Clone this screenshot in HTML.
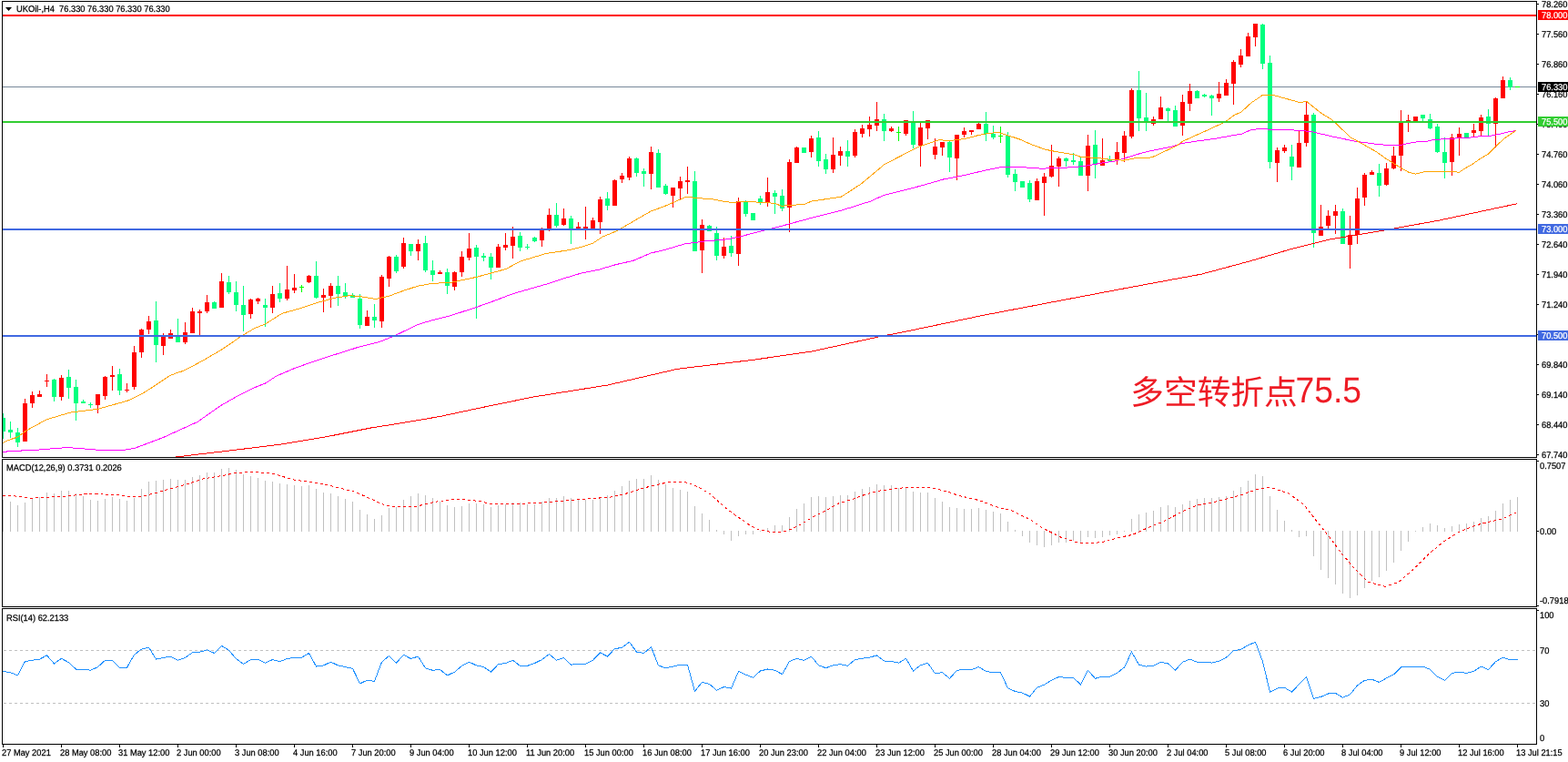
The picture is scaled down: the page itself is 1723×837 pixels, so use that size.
<!DOCTYPE html>
<html><head><meta charset="utf-8"><title>UKOil H4</title>
<style>
html,body{margin:0;padding:0;background:#fff;}
body{width:1723px;height:837px;overflow:hidden;}
svg{display:block;}
svg text{font-family:"Liberation Sans", "Noto Sans CJK SC", sans-serif;text-rendering:geometricPrecision;}
</style></head><body>
<svg width="1723" height="837" viewBox="0 0 1723 837">
<defs><clipPath id="mainclip"><rect x="3" y="2" width="1685" height="500"/></clipPath></defs>
<rect width="1723" height="837" fill="#fff"/>
<g shape-rendering="crispEdges">
<rect x="3" y="95" width="1685" height="1" fill="#778899"/>
<g clip-path="url(#mainclip)">
<rect x="3" y="454" width="1" height="28" fill="#00ff7f"/>
<rect x="1" y="459" width="5" height="15" fill="#00ff7f"/>
<rect x="11" y="463" width="1" height="18" fill="#00ff7f"/>
<rect x="9" y="472" width="5" height="3" fill="#00ff7f"/>
<rect x="19" y="470" width="1" height="21" fill="#00ff7f"/>
<rect x="17" y="475" width="5" height="11" fill="#00ff7f"/>
<rect x="27" y="438" width="1" height="47" fill="#ff0000"/>
<rect x="25" y="443" width="5" height="42" fill="#ff0000"/>
<rect x="35" y="430" width="1" height="18" fill="#ff0000"/>
<rect x="33" y="434" width="5" height="9" fill="#ff0000"/>
<rect x="43" y="429" width="1" height="7" fill="#ff0000"/>
<rect x="41" y="433" width="5" height="3" fill="#ff0000"/>
<rect x="51" y="411" width="1" height="14" fill="#ff0000"/>
<rect x="49" y="418" width="5" height="1" fill="#ff0000"/>
<rect x="59" y="416" width="1" height="25" fill="#00ff7f"/>
<rect x="57" y="417" width="5" height="19" fill="#00ff7f"/>
<rect x="67" y="412" width="1" height="28" fill="#ff0000"/>
<rect x="65" y="415" width="5" height="21" fill="#ff0000"/>
<rect x="75" y="406" width="1" height="32" fill="#00ff7f"/>
<rect x="73" y="414" width="5" height="12" fill="#00ff7f"/>
<rect x="83" y="417" width="1" height="45" fill="#00ff7f"/>
<rect x="81" y="425" width="5" height="18" fill="#00ff7f"/>
<rect x="91" y="439" width="1" height="4" fill="#00ff7f"/>
<rect x="89" y="441" width="5" height="2" fill="#00ff7f"/>
<rect x="99" y="442" width="1" height="6" fill="#00ff7f"/>
<rect x="97" y="444" width="5" height="1" fill="#00ff7f"/>
<rect x="107" y="433" width="1" height="21" fill="#ff0000"/>
<rect x="105" y="433" width="5" height="12" fill="#ff0000"/>
<rect x="115" y="413" width="1" height="26" fill="#ff0000"/>
<rect x="113" y="414" width="5" height="21" fill="#ff0000"/>
<rect x="123" y="402" width="1" height="27" fill="#ff0000"/>
<rect x="121" y="412" width="5" height="2" fill="#ff0000"/>
<rect x="131" y="405" width="1" height="29" fill="#00ff7f"/>
<rect x="129" y="411" width="5" height="18" fill="#00ff7f"/>
<rect x="139" y="421" width="1" height="10" fill="#ff0000"/>
<rect x="137" y="428" width="5" height="1" fill="#ff0000"/>
<rect x="147" y="380" width="1" height="48" fill="#ff0000"/>
<rect x="145" y="387" width="5" height="38" fill="#ff0000"/>
<rect x="155" y="361" width="1" height="32" fill="#ff0000"/>
<rect x="153" y="362" width="5" height="25" fill="#ff0000"/>
<rect x="163" y="347" width="1" height="20" fill="#ff0000"/>
<rect x="161" y="353" width="5" height="9" fill="#ff0000"/>
<rect x="171" y="331" width="1" height="67" fill="#00ff7f"/>
<rect x="169" y="352" width="5" height="27" fill="#00ff7f"/>
<rect x="179" y="366" width="1" height="24" fill="#ff0000"/>
<rect x="177" y="369" width="5" height="11" fill="#ff0000"/>
<rect x="187" y="362" width="1" height="10" fill="#ff0000"/>
<rect x="185" y="366" width="5" height="6" fill="#ff0000"/>
<rect x="195" y="350" width="1" height="26" fill="#00ff7f"/>
<rect x="193" y="370" width="5" height="6" fill="#00ff7f"/>
<rect x="203" y="354" width="1" height="24" fill="#ff0000"/>
<rect x="201" y="365" width="5" height="11" fill="#ff0000"/>
<rect x="211" y="338" width="1" height="28" fill="#ff0000"/>
<rect x="209" y="342" width="5" height="24" fill="#ff0000"/>
<rect x="219" y="340" width="1" height="28" fill="#ff0000"/>
<rect x="217" y="342" width="5" height="2" fill="#ff0000"/>
<rect x="227" y="324" width="1" height="20" fill="#ff0000"/>
<rect x="225" y="332" width="5" height="10" fill="#ff0000"/>
<rect x="235" y="331" width="1" height="8" fill="#00ff7f"/>
<rect x="233" y="332" width="5" height="7" fill="#00ff7f"/>
<rect x="243" y="300" width="1" height="38" fill="#ff0000"/>
<rect x="241" y="309" width="5" height="29" fill="#ff0000"/>
<rect x="251" y="303" width="1" height="20" fill="#00ff7f"/>
<rect x="249" y="310" width="5" height="11" fill="#00ff7f"/>
<rect x="259" y="309" width="1" height="33" fill="#00ff7f"/>
<rect x="257" y="321" width="5" height="14" fill="#00ff7f"/>
<rect x="267" y="314" width="1" height="50" fill="#00ff7f"/>
<rect x="265" y="335" width="5" height="11" fill="#00ff7f"/>
<rect x="275" y="328" width="1" height="22" fill="#ff0000"/>
<rect x="273" y="329" width="5" height="16" fill="#ff0000"/>
<rect x="283" y="327" width="1" height="7" fill="#ff0000"/>
<rect x="281" y="328" width="5" height="3" fill="#ff0000"/>
<rect x="291" y="328" width="1" height="31" fill="#00ff7f"/>
<rect x="289" y="335" width="5" height="3" fill="#00ff7f"/>
<rect x="299" y="314" width="1" height="30" fill="#ff0000"/>
<rect x="297" y="323" width="5" height="15" fill="#ff0000"/>
<rect x="307" y="311" width="1" height="21" fill="#00ff7f"/>
<rect x="305" y="322" width="5" height="6" fill="#00ff7f"/>
<rect x="315" y="292" width="1" height="38" fill="#ff0000"/>
<rect x="313" y="318" width="5" height="10" fill="#ff0000"/>
<rect x="323" y="301" width="1" height="21" fill="#ff0000"/>
<rect x="321" y="316" width="5" height="3" fill="#ff0000"/>
<rect x="331" y="313" width="1" height="8" fill="#00ff00"/>
<rect x="329" y="315" width="5" height="1" fill="#00ff00"/>
<rect x="339" y="302" width="1" height="9" fill="#ff0000"/>
<rect x="337" y="303" width="5" height="7" fill="#ff0000"/>
<rect x="347" y="287" width="1" height="41" fill="#00ff7f"/>
<rect x="345" y="303" width="5" height="24" fill="#00ff7f"/>
<rect x="355" y="317" width="1" height="26" fill="#ff0000"/>
<rect x="353" y="324" width="5" height="3" fill="#ff0000"/>
<rect x="363" y="311" width="1" height="27" fill="#ff0000"/>
<rect x="361" y="314" width="5" height="11" fill="#ff0000"/>
<rect x="371" y="303" width="1" height="33" fill="#00ff7f"/>
<rect x="369" y="314" width="5" height="9" fill="#00ff7f"/>
<rect x="379" y="311" width="1" height="17" fill="#00ff7f"/>
<rect x="377" y="321" width="5" height="4" fill="#00ff7f"/>
<rect x="387" y="322" width="1" height="5" fill="#00ff7f"/>
<rect x="385" y="324" width="5" height="3" fill="#00ff7f"/>
<rect x="395" y="323" width="1" height="38" fill="#00ff7f"/>
<rect x="393" y="328" width="5" height="29" fill="#00ff7f"/>
<rect x="403" y="341" width="1" height="17" fill="#ff0000"/>
<rect x="401" y="348" width="5" height="10" fill="#ff0000"/>
<rect x="411" y="334" width="1" height="26" fill="#00ff7f"/>
<rect x="409" y="348" width="5" height="4" fill="#00ff7f"/>
<rect x="419" y="302" width="1" height="58" fill="#ff0000"/>
<rect x="417" y="304" width="5" height="49" fill="#ff0000"/>
<rect x="427" y="281" width="1" height="34" fill="#ff0000"/>
<rect x="425" y="282" width="5" height="24" fill="#ff0000"/>
<rect x="435" y="280" width="1" height="20" fill="#00ff7f"/>
<rect x="433" y="282" width="5" height="16" fill="#00ff7f"/>
<rect x="443" y="261" width="1" height="34" fill="#ff0000"/>
<rect x="441" y="267" width="5" height="26" fill="#ff0000"/>
<rect x="451" y="268" width="1" height="13" fill="#00ff7f"/>
<rect x="449" y="268" width="5" height="8" fill="#00ff7f"/>
<rect x="459" y="263" width="1" height="23" fill="#ff0000"/>
<rect x="457" y="268" width="5" height="8" fill="#ff0000"/>
<rect x="467" y="259" width="1" height="40" fill="#00ff7f"/>
<rect x="465" y="267" width="5" height="30" fill="#00ff7f"/>
<rect x="475" y="286" width="1" height="23" fill="#00ff7f"/>
<rect x="473" y="297" width="5" height="5" fill="#00ff7f"/>
<rect x="483" y="297" width="1" height="4" fill="#ff0000"/>
<rect x="481" y="299" width="5" height="2" fill="#ff0000"/>
<rect x="491" y="295" width="1" height="28" fill="#00ff7f"/>
<rect x="489" y="299" width="5" height="15" fill="#00ff7f"/>
<rect x="499" y="298" width="1" height="21" fill="#ff0000"/>
<rect x="497" y="299" width="5" height="16" fill="#ff0000"/>
<rect x="507" y="276" width="1" height="28" fill="#ff0000"/>
<rect x="505" y="282" width="5" height="17" fill="#ff0000"/>
<rect x="515" y="256" width="1" height="30" fill="#ff0000"/>
<rect x="513" y="273" width="5" height="10" fill="#ff0000"/>
<rect x="523" y="269" width="1" height="81" fill="#00ff7f"/>
<rect x="521" y="272" width="5" height="10" fill="#00ff7f"/>
<rect x="531" y="278" width="1" height="9" fill="#00ff7f"/>
<rect x="529" y="281" width="5" height="2" fill="#00ff7f"/>
<rect x="539" y="278" width="1" height="29" fill="#00ff7f"/>
<rect x="537" y="282" width="5" height="12" fill="#00ff7f"/>
<rect x="547" y="268" width="1" height="26" fill="#ff0000"/>
<rect x="545" y="271" width="5" height="23" fill="#ff0000"/>
<rect x="555" y="256" width="1" height="19" fill="#ff0000"/>
<rect x="553" y="269" width="5" height="3" fill="#ff0000"/>
<rect x="563" y="249" width="1" height="35" fill="#ff0000"/>
<rect x="561" y="260" width="5" height="10" fill="#ff0000"/>
<rect x="571" y="255" width="1" height="21" fill="#00ff7f"/>
<rect x="569" y="259" width="5" height="13" fill="#00ff7f"/>
<rect x="579" y="268" width="1" height="6" fill="#00ff7f"/>
<rect x="577" y="271" width="5" height="1" fill="#00ff7f"/>
<rect x="587" y="260" width="1" height="6" fill="#00ff7f"/>
<rect x="585" y="261" width="5" height="4" fill="#00ff7f"/>
<rect x="595" y="250" width="1" height="21" fill="#ff0000"/>
<rect x="593" y="252" width="5" height="12" fill="#ff0000"/>
<rect x="603" y="229" width="1" height="25" fill="#ff0000"/>
<rect x="601" y="236" width="5" height="15" fill="#ff0000"/>
<rect x="611" y="223" width="1" height="27" fill="#00ff7f"/>
<rect x="609" y="236" width="5" height="12" fill="#00ff7f"/>
<rect x="619" y="229" width="1" height="19" fill="#ff0000"/>
<rect x="617" y="240" width="5" height="7" fill="#ff0000"/>
<rect x="627" y="237" width="1" height="31" fill="#00ff7f"/>
<rect x="625" y="240" width="5" height="11" fill="#00ff7f"/>
<rect x="635" y="244" width="1" height="7" fill="#ff0000"/>
<rect x="633" y="249" width="5" height="2" fill="#ff0000"/>
<rect x="643" y="227" width="1" height="36" fill="#ff0000"/>
<rect x="641" y="249" width="5" height="2" fill="#ff0000"/>
<rect x="651" y="239" width="1" height="12" fill="#ff0000"/>
<rect x="649" y="242" width="5" height="9" fill="#ff0000"/>
<rect x="659" y="216" width="1" height="41" fill="#ff0000"/>
<rect x="657" y="219" width="5" height="25" fill="#ff0000"/>
<rect x="667" y="211" width="1" height="20" fill="#00ff7f"/>
<rect x="665" y="218" width="5" height="8" fill="#00ff7f"/>
<rect x="675" y="197" width="1" height="29" fill="#ff0000"/>
<rect x="673" y="198" width="5" height="28" fill="#ff0000"/>
<rect x="683" y="190" width="1" height="11" fill="#ff0000"/>
<rect x="681" y="193" width="5" height="4" fill="#ff0000"/>
<rect x="691" y="172" width="1" height="26" fill="#ff0000"/>
<rect x="689" y="174" width="5" height="21" fill="#ff0000"/>
<rect x="699" y="173" width="1" height="21" fill="#00ff7f"/>
<rect x="697" y="174" width="5" height="16" fill="#00ff7f"/>
<rect x="707" y="185" width="1" height="20" fill="#00ff7f"/>
<rect x="705" y="188" width="5" height="3" fill="#00ff7f"/>
<rect x="715" y="161" width="1" height="47" fill="#ff0000"/>
<rect x="713" y="167" width="5" height="24" fill="#ff0000"/>
<rect x="723" y="164" width="1" height="42" fill="#00ff7f"/>
<rect x="721" y="168" width="5" height="38" fill="#00ff7f"/>
<rect x="731" y="202" width="1" height="12" fill="#00ff7f"/>
<rect x="729" y="204" width="5" height="9" fill="#00ff7f"/>
<rect x="739" y="206" width="1" height="22" fill="#ff0000"/>
<rect x="737" y="206" width="5" height="9" fill="#ff0000"/>
<rect x="747" y="194" width="1" height="25" fill="#ff0000"/>
<rect x="745" y="199" width="5" height="8" fill="#ff0000"/>
<rect x="755" y="183" width="1" height="30" fill="#ff0000"/>
<rect x="753" y="198" width="5" height="2" fill="#ff0000"/>
<rect x="763" y="188" width="1" height="88" fill="#00ff7f"/>
<rect x="761" y="199" width="5" height="77" fill="#00ff7f"/>
<rect x="771" y="241" width="1" height="59" fill="#ff0000"/>
<rect x="769" y="247" width="5" height="28" fill="#ff0000"/>
<rect x="779" y="247" width="1" height="7" fill="#00ff7f"/>
<rect x="777" y="248" width="5" height="6" fill="#00ff7f"/>
<rect x="787" y="249" width="1" height="37" fill="#00ff7f"/>
<rect x="785" y="256" width="5" height="25" fill="#00ff7f"/>
<rect x="795" y="261" width="1" height="23" fill="#ff0000"/>
<rect x="793" y="271" width="5" height="10" fill="#ff0000"/>
<rect x="803" y="259" width="1" height="23" fill="#00ff7f"/>
<rect x="801" y="270" width="5" height="8" fill="#00ff7f"/>
<rect x="811" y="217" width="1" height="75" fill="#ff0000"/>
<rect x="809" y="221" width="5" height="58" fill="#ff0000"/>
<rect x="819" y="220" width="1" height="18" fill="#00ff7f"/>
<rect x="817" y="222" width="5" height="13" fill="#00ff7f"/>
<rect x="827" y="234" width="1" height="8" fill="#00ff7f"/>
<rect x="825" y="234" width="5" height="8" fill="#00ff7f"/>
<rect x="835" y="215" width="1" height="10" fill="#00ff7f"/>
<rect x="833" y="218" width="5" height="4" fill="#00ff7f"/>
<rect x="843" y="195" width="1" height="32" fill="#ff0000"/>
<rect x="841" y="211" width="5" height="11" fill="#ff0000"/>
<rect x="851" y="209" width="1" height="26" fill="#00ff7f"/>
<rect x="849" y="212" width="5" height="4" fill="#00ff7f"/>
<rect x="859" y="208" width="1" height="24" fill="#00ff7f"/>
<rect x="857" y="215" width="5" height="14" fill="#00ff7f"/>
<rect x="867" y="175" width="1" height="80" fill="#ff0000"/>
<rect x="865" y="178" width="5" height="50" fill="#ff0000"/>
<rect x="875" y="161" width="1" height="18" fill="#ff0000"/>
<rect x="873" y="162" width="5" height="17" fill="#ff0000"/>
<rect x="883" y="162" width="1" height="6" fill="#00ff7f"/>
<rect x="881" y="162" width="5" height="6" fill="#00ff7f"/>
<rect x="891" y="149" width="1" height="24" fill="#ff0000"/>
<rect x="889" y="152" width="5" height="15" fill="#ff0000"/>
<rect x="899" y="144" width="1" height="39" fill="#00ff7f"/>
<rect x="897" y="151" width="5" height="26" fill="#00ff7f"/>
<rect x="907" y="169" width="1" height="22" fill="#00ff7f"/>
<rect x="905" y="175" width="5" height="11" fill="#00ff7f"/>
<rect x="915" y="151" width="1" height="39" fill="#ff0000"/>
<rect x="913" y="170" width="5" height="16" fill="#ff0000"/>
<rect x="923" y="161" width="1" height="21" fill="#ff0000"/>
<rect x="921" y="166" width="5" height="5" fill="#ff0000"/>
<rect x="931" y="154" width="1" height="29" fill="#00ff7f"/>
<rect x="929" y="166" width="5" height="6" fill="#00ff7f"/>
<rect x="939" y="142" width="1" height="31" fill="#ff0000"/>
<rect x="937" y="145" width="5" height="26" fill="#ff0000"/>
<rect x="947" y="137" width="1" height="14" fill="#ff0000"/>
<rect x="945" y="141" width="5" height="6" fill="#ff0000"/>
<rect x="955" y="128" width="1" height="22" fill="#ff0000"/>
<rect x="953" y="137" width="5" height="5" fill="#ff0000"/>
<rect x="963" y="112" width="1" height="32" fill="#ff0000"/>
<rect x="961" y="131" width="5" height="7" fill="#ff0000"/>
<rect x="971" y="125" width="1" height="30" fill="#00ff7f"/>
<rect x="969" y="131" width="5" height="13" fill="#00ff7f"/>
<rect x="979" y="139" width="1" height="6" fill="#ff0000"/>
<rect x="977" y="141" width="5" height="3" fill="#ff0000"/>
<rect x="987" y="139" width="1" height="16" fill="#00ff00"/>
<rect x="985" y="145" width="5" height="1" fill="#00ff00"/>
<rect x="995" y="132" width="1" height="17" fill="#ff0000"/>
<rect x="993" y="132" width="5" height="15" fill="#ff0000"/>
<rect x="1003" y="122" width="1" height="41" fill="#00ff7f"/>
<rect x="1001" y="135" width="5" height="24" fill="#00ff7f"/>
<rect x="1011" y="135" width="1" height="48" fill="#ff0000"/>
<rect x="1009" y="140" width="5" height="20" fill="#ff0000"/>
<rect x="1019" y="132" width="1" height="21" fill="#ff0000"/>
<rect x="1017" y="132" width="5" height="9" fill="#ff0000"/>
<rect x="1027" y="152" width="1" height="23" fill="#ff0000"/>
<rect x="1025" y="161" width="5" height="9" fill="#ff0000"/>
<rect x="1035" y="156" width="1" height="15" fill="#ff0000"/>
<rect x="1033" y="156" width="5" height="6" fill="#ff0000"/>
<rect x="1043" y="155" width="1" height="34" fill="#00ff7f"/>
<rect x="1041" y="156" width="5" height="17" fill="#00ff7f"/>
<rect x="1051" y="148" width="1" height="50" fill="#ff0000"/>
<rect x="1049" y="148" width="5" height="26" fill="#ff0000"/>
<rect x="1059" y="140" width="1" height="11" fill="#ff0000"/>
<rect x="1057" y="144" width="5" height="4" fill="#ff0000"/>
<rect x="1067" y="143" width="1" height="5" fill="#ff0000"/>
<rect x="1065" y="143" width="5" height="2" fill="#ff0000"/>
<rect x="1075" y="135" width="1" height="7" fill="#ff0000"/>
<rect x="1073" y="136" width="5" height="6" fill="#ff0000"/>
<rect x="1083" y="123" width="1" height="32" fill="#00ff7f"/>
<rect x="1081" y="136" width="5" height="11" fill="#00ff7f"/>
<rect x="1091" y="138" width="1" height="15" fill="#00ff7f"/>
<rect x="1089" y="147" width="5" height="4" fill="#00ff7f"/>
<rect x="1099" y="139" width="1" height="18" fill="#00ff00"/>
<rect x="1097" y="149" width="5" height="1" fill="#00ff00"/>
<rect x="1107" y="145" width="1" height="50" fill="#00ff7f"/>
<rect x="1105" y="149" width="5" height="43" fill="#00ff7f"/>
<rect x="1115" y="186" width="1" height="24" fill="#00ff7f"/>
<rect x="1113" y="191" width="5" height="9" fill="#00ff7f"/>
<rect x="1123" y="199" width="1" height="7" fill="#00ff7f"/>
<rect x="1121" y="199" width="5" height="7" fill="#00ff7f"/>
<rect x="1131" y="198" width="1" height="24" fill="#00ff7f"/>
<rect x="1129" y="201" width="5" height="18" fill="#00ff7f"/>
<rect x="1139" y="196" width="1" height="24" fill="#ff0000"/>
<rect x="1137" y="199" width="5" height="21" fill="#ff0000"/>
<rect x="1147" y="190" width="1" height="47" fill="#ff0000"/>
<rect x="1145" y="194" width="5" height="7" fill="#ff0000"/>
<rect x="1155" y="159" width="1" height="36" fill="#ff0000"/>
<rect x="1153" y="182" width="5" height="12" fill="#ff0000"/>
<rect x="1163" y="172" width="1" height="33" fill="#ff0000"/>
<rect x="1161" y="174" width="5" height="9" fill="#ff0000"/>
<rect x="1171" y="173" width="1" height="10" fill="#00ff7f"/>
<rect x="1169" y="174" width="5" height="3" fill="#00ff7f"/>
<rect x="1179" y="168" width="1" height="13" fill="#00ff7f"/>
<rect x="1177" y="176" width="5" height="2" fill="#00ff7f"/>
<rect x="1187" y="173" width="1" height="20" fill="#00ff7f"/>
<rect x="1185" y="177" width="5" height="16" fill="#00ff7f"/>
<rect x="1195" y="148" width="1" height="62" fill="#ff0000"/>
<rect x="1193" y="160" width="5" height="33" fill="#ff0000"/>
<rect x="1203" y="143" width="1" height="53" fill="#00ff7f"/>
<rect x="1201" y="159" width="5" height="22" fill="#00ff7f"/>
<rect x="1211" y="152" width="1" height="30" fill="#ff0000"/>
<rect x="1209" y="176" width="5" height="6" fill="#ff0000"/>
<rect x="1219" y="171" width="1" height="6" fill="#00ff7f"/>
<rect x="1217" y="175" width="5" height="2" fill="#00ff7f"/>
<rect x="1227" y="156" width="1" height="25" fill="#ff0000"/>
<rect x="1225" y="167" width="5" height="8" fill="#ff0000"/>
<rect x="1235" y="144" width="1" height="34" fill="#ff0000"/>
<rect x="1233" y="149" width="5" height="19" fill="#ff0000"/>
<rect x="1243" y="97" width="1" height="55" fill="#ff0000"/>
<rect x="1241" y="99" width="5" height="51" fill="#ff0000"/>
<rect x="1251" y="78" width="1" height="66" fill="#00ff7f"/>
<rect x="1249" y="99" width="5" height="31" fill="#00ff7f"/>
<rect x="1259" y="102" width="1" height="42" fill="#00ff7f"/>
<rect x="1257" y="129" width="5" height="5" fill="#00ff7f"/>
<rect x="1267" y="128" width="1" height="10" fill="#ff0000"/>
<rect x="1265" y="131" width="5" height="5" fill="#ff0000"/>
<rect x="1275" y="106" width="1" height="25" fill="#ff0000"/>
<rect x="1273" y="118" width="5" height="13" fill="#ff0000"/>
<rect x="1283" y="118" width="1" height="15" fill="#00ff7f"/>
<rect x="1281" y="119" width="5" height="3" fill="#00ff7f"/>
<rect x="1291" y="116" width="1" height="23" fill="#00ff7f"/>
<rect x="1289" y="121" width="5" height="18" fill="#00ff7f"/>
<rect x="1299" y="104" width="1" height="45" fill="#ff0000"/>
<rect x="1297" y="112" width="5" height="26" fill="#ff0000"/>
<rect x="1307" y="92" width="1" height="30" fill="#ff0000"/>
<rect x="1305" y="100" width="5" height="14" fill="#ff0000"/>
<rect x="1315" y="99" width="1" height="9" fill="#00ff7f"/>
<rect x="1313" y="100" width="5" height="8" fill="#00ff7f"/>
<rect x="1323" y="103" width="1" height="4" fill="#00ff7f"/>
<rect x="1321" y="104" width="5" height="2" fill="#00ff7f"/>
<rect x="1331" y="104" width="1" height="23" fill="#00ff7f"/>
<rect x="1329" y="105" width="5" height="3" fill="#00ff7f"/>
<rect x="1339" y="90" width="1" height="22" fill="#ff0000"/>
<rect x="1337" y="103" width="5" height="5" fill="#ff0000"/>
<rect x="1347" y="87" width="1" height="18" fill="#ff0000"/>
<rect x="1345" y="91" width="5" height="14" fill="#ff0000"/>
<rect x="1355" y="66" width="1" height="49" fill="#ff0000"/>
<rect x="1353" y="68" width="5" height="24" fill="#ff0000"/>
<rect x="1363" y="54" width="1" height="20" fill="#ff0000"/>
<rect x="1361" y="61" width="5" height="10" fill="#ff0000"/>
<rect x="1371" y="36" width="1" height="26" fill="#ff0000"/>
<rect x="1369" y="40" width="5" height="22" fill="#ff0000"/>
<rect x="1379" y="26" width="1" height="25" fill="#ff0000"/>
<rect x="1377" y="26" width="5" height="15" fill="#ff0000"/>
<rect x="1387" y="26" width="1" height="50" fill="#00ff7f"/>
<rect x="1385" y="27" width="5" height="43" fill="#00ff7f"/>
<rect x="1395" y="61" width="1" height="124" fill="#00ff7f"/>
<rect x="1393" y="69" width="5" height="109" fill="#00ff7f"/>
<rect x="1403" y="162" width="1" height="38" fill="#ff0000"/>
<rect x="1401" y="165" width="5" height="14" fill="#ff0000"/>
<rect x="1411" y="159" width="1" height="9" fill="#ff0000"/>
<rect x="1409" y="162" width="5" height="4" fill="#ff0000"/>
<rect x="1419" y="159" width="1" height="39" fill="#00ff7f"/>
<rect x="1417" y="172" width="5" height="11" fill="#00ff7f"/>
<rect x="1427" y="144" width="1" height="40" fill="#ff0000"/>
<rect x="1425" y="157" width="5" height="27" fill="#ff0000"/>
<rect x="1435" y="112" width="1" height="49" fill="#ff0000"/>
<rect x="1433" y="126" width="5" height="31" fill="#ff0000"/>
<rect x="1443" y="124" width="1" height="148" fill="#00ff7f"/>
<rect x="1441" y="126" width="5" height="130" fill="#00ff7f"/>
<rect x="1451" y="225" width="1" height="34" fill="#ff0000"/>
<rect x="1449" y="249" width="5" height="10" fill="#ff0000"/>
<rect x="1459" y="231" width="1" height="20" fill="#ff0000"/>
<rect x="1457" y="237" width="5" height="11" fill="#ff0000"/>
<rect x="1467" y="225" width="1" height="32" fill="#ff0000"/>
<rect x="1465" y="232" width="5" height="5" fill="#ff0000"/>
<rect x="1475" y="229" width="1" height="39" fill="#00ff7f"/>
<rect x="1473" y="232" width="5" height="36" fill="#00ff7f"/>
<rect x="1483" y="237" width="1" height="58" fill="#ff0000"/>
<rect x="1481" y="258" width="5" height="11" fill="#ff0000"/>
<rect x="1491" y="206" width="1" height="62" fill="#ff0000"/>
<rect x="1489" y="218" width="5" height="40" fill="#ff0000"/>
<rect x="1499" y="190" width="1" height="36" fill="#ff0000"/>
<rect x="1497" y="192" width="5" height="25" fill="#ff0000"/>
<rect x="1507" y="187" width="1" height="5" fill="#ff0000"/>
<rect x="1505" y="189" width="5" height="3" fill="#ff0000"/>
<rect x="1515" y="180" width="1" height="36" fill="#00ff7f"/>
<rect x="1513" y="190" width="5" height="14" fill="#00ff7f"/>
<rect x="1523" y="179" width="1" height="25" fill="#ff0000"/>
<rect x="1521" y="185" width="5" height="18" fill="#ff0000"/>
<rect x="1531" y="161" width="1" height="25" fill="#ff0000"/>
<rect x="1529" y="171" width="5" height="14" fill="#ff0000"/>
<rect x="1539" y="121" width="1" height="67" fill="#ff0000"/>
<rect x="1537" y="135" width="5" height="36" fill="#ff0000"/>
<rect x="1547" y="126" width="1" height="19" fill="#ff0000"/>
<rect x="1545" y="132" width="5" height="1" fill="#ff0000"/>
<rect x="1555" y="128" width="1" height="5" fill="#ff0000"/>
<rect x="1553" y="128" width="5" height="5" fill="#ff0000"/>
<rect x="1563" y="126" width="1" height="7" fill="#00ff7f"/>
<rect x="1561" y="126" width="5" height="4" fill="#00ff7f"/>
<rect x="1571" y="125" width="1" height="17" fill="#00ff7f"/>
<rect x="1569" y="131" width="5" height="10" fill="#00ff7f"/>
<rect x="1579" y="136" width="1" height="32" fill="#00ff7f"/>
<rect x="1577" y="139" width="5" height="28" fill="#00ff7f"/>
<rect x="1587" y="151" width="1" height="45" fill="#00ff7f"/>
<rect x="1585" y="167" width="5" height="12" fill="#00ff7f"/>
<rect x="1595" y="147" width="1" height="46" fill="#ff0000"/>
<rect x="1593" y="151" width="5" height="27" fill="#ff0000"/>
<rect x="1603" y="140" width="1" height="31" fill="#ff0000"/>
<rect x="1601" y="147" width="5" height="5" fill="#ff0000"/>
<rect x="1611" y="146" width="1" height="5" fill="#00ff7f"/>
<rect x="1609" y="146" width="5" height="5" fill="#00ff7f"/>
<rect x="1619" y="136" width="1" height="15" fill="#ff0000"/>
<rect x="1617" y="143" width="5" height="3" fill="#ff0000"/>
<rect x="1627" y="126" width="1" height="23" fill="#ff0000"/>
<rect x="1625" y="129" width="5" height="15" fill="#ff0000"/>
<rect x="1635" y="120" width="1" height="29" fill="#00ff7f"/>
<rect x="1633" y="128" width="5" height="8" fill="#00ff7f"/>
<rect x="1643" y="107" width="1" height="55" fill="#ff0000"/>
<rect x="1641" y="108" width="5" height="28" fill="#ff0000"/>
<rect x="1651" y="84" width="1" height="24" fill="#ff0000"/>
<rect x="1649" y="88" width="5" height="20" fill="#ff0000"/>
<rect x="1659" y="85" width="1" height="14" fill="#00ff7f"/>
<rect x="1657" y="88" width="5" height="8" fill="#00ff7f"/>
<rect x="1665" y="95" width="5" height="1" fill="#00ff00"/>
</g>
<g clip-path="url(#mainclip)">
<polyline points="191.5,502.2 255.4,494.6 306.4,488.4 357.5,480.0 408.6,469.8 430.0,466.5 482.9,457.6 529.2,447.7 585.5,436.1 668.2,422.9 744.3,405.3 827.0,395.4 893.1,385.8 965.9,369.9 1000.0,363.2 1080.1,346.4 1160.2,331.1 1240.3,315.9 1320.4,301.1 1372.4,287.1 1420.5,273.1 1460.6,263.1 1520.6,253.0 1580.7,242.2 1666.8,223.8" fill="none" stroke="#ff0000" stroke-width="1" />
<polyline points="2.6,496.6 7.0,496.4 8.0,495.5 23.0,495.5 24.0,494.6 38.3,494.4 74.1,491.5 112.4,494.6 137.9,494.1 148.1,492.3 178.8,480.8 217.1,463.4 242.6,445.5 260.5,435.3 280.0,425.6 292.0,420.8 303.9,413.0 321.8,405.3 339.7,398.7 357.7,392.7 375.6,387.1 393.5,381.4 417.4,375.4 435.3,368.0 459.2,356.5 474.7,351.8 496.0,346.4 523.4,337.5 545.2,329.7 560.0,323.9 571.6,320.3 600.0,312.2 619.1,306.0 638.2,300.2 657.4,296.4 676.5,290.7 695.6,286.4 714.7,278.2 733.8,273.5 752.0,268.0 773.3,265.1 796.6,263.1 812.1,260.3 827.6,256.1 843.2,252.2 858.7,248.3 890.1,239.8 924.5,231.2 956.8,221.0 970.7,214.7 1000.0,207.3 1013.3,203.7 1036.6,197.0 1059.9,192.4 1083.2,187.0 1098.7,183.9 1120.0,183.4 1144.4,185.2 1172.3,184.1 1191.0,182.6 1211.2,179.0 1226.7,176.7 1250.0,169.4 1262.4,166.2 1288.2,161.0 1297.8,157.6 1316.9,154.8 1336.0,152.2 1350.4,149.5 1364.7,147.1 1374.3,142.8 1383.8,141.4 1391.5,141.4 1393.4,142.3 1412.6,142.3 1440.0,144.4 1463.9,149.9 1487.8,155.0 1511.7,158.2 1523.6,159.4 1539.2,159.4 1553.5,156.2 1560.0,155.6 1566.7,155.6 1575.3,153.5 1591.5,152.5 1606.8,151.5 1620.2,150.8 1627.9,149.2 1638.4,149.2 1646.0,147.7 1655.6,145.3 1666.1,143.4" fill="none" stroke="#ff00ff" stroke-width="1" />
<polyline points="3.0,486.6 7.2,484.2 19.4,480.0 25.0,475.8 28.7,473.1 51.1,460.9 76.6,453.2 107.3,449.4 140.4,440.1 156.6,432.3 170.5,423.4 185.6,413.2 193.1,410.0 201.7,407.3 221.1,397.1 234.0,389.6 242.6,384.7 260.0,372.9 264.4,369.5 280.0,360.5 292.0,355.7 309.9,344.3 327.8,339.3 346.7,333.0 368.0,327.2 384.6,324.6 397.0,325.9 412.6,328.5 428.1,325.0 443.6,319.2 459.2,314.2 474.7,311.4 496.0,310.2 523.4,304.4 556.0,295.5 571.6,287.0 600.0,278.5 623.9,274.9 638.2,271.5 651.6,267.2 662.1,260.1 678.4,253.4 701.3,240.0 715.2,232.0 730.7,226.4 752.0,217.1 756.2,216.2 765.5,217.7 781.0,218.4 796.6,221.6 805.9,222.4 819.9,221.1 835.4,222.4 851.0,223.2 858.7,226.3 884.7,224.2 891.2,221.2 924.5,216.1 946.0,202.2 971.8,180.6 1000.0,166.1 1010.2,160.9 1031.9,153.6 1042.8,154.7 1059.9,152.5 1073.9,148.9 1083.2,146.9 1097.1,145.3 1108.0,148.9 1120.0,152.8 1133.5,158.8 1149.0,164.3 1164.6,167.4 1180.1,169.7 1187.9,172.5 1203.4,173.3 1219.0,175.1 1234.5,176.2 1248.0,173.6 1262.4,173.6 1267.2,172.2 1293.0,160.0 1299.7,155.2 1329.3,141.8 1343.7,135.2 1348.5,132.3 1356.1,126.5 1363.8,123.2 1375.2,112.7 1387.7,104.3 1398.6,104.3 1412.6,108.2 1428.1,112.5 1435.9,111.6 1452.0,124.5 1463.9,131.7 1484.2,151.1 1493.8,156.2 1511.7,166.3 1523.6,174.7 1539.2,184.2 1547.5,189.0 1555.4,191.1 1566.7,188.4 1599.2,188.4 1603.0,189.6 1609.7,185.0 1618.3,180.2 1626.9,174.0 1635.5,169.2 1643.2,161.1 1653.7,151.5 1666.1,143.4" fill="none" stroke="#ffa500" stroke-width="1" />
</g>
<rect x="3" y="16" width="1685" height="2" fill="#ff0000"/>
<rect x="3" y="133" width="1685" height="2" fill="#32cd32"/>
<rect x="3" y="251" width="1685" height="2" fill="#4169e1"/>
<rect x="3" y="368" width="1685" height="2" fill="#4169e1"/>
<rect x="2" y="1" width="1687" height="1" fill="#000"/>
<rect x="2" y="502" width="1687" height="1" fill="#000"/>
<rect x="2" y="1" width="1" height="502" fill="#000"/>
<rect x="1688" y="1" width="1" height="502" fill="#000"/>
<rect x="3" y="549" width="1" height="35" fill="#c0c0c0"/>
<rect x="11" y="551" width="1" height="33" fill="#c0c0c0"/>
<rect x="19" y="555" width="1" height="29" fill="#c0c0c0"/>
<rect x="27" y="552" width="1" height="32" fill="#c0c0c0"/>
<rect x="35" y="548" width="1" height="36" fill="#c0c0c0"/>
<rect x="43" y="546" width="1" height="38" fill="#c0c0c0"/>
<rect x="51" y="541" width="1" height="43" fill="#c0c0c0"/>
<rect x="59" y="542" width="1" height="42" fill="#c0c0c0"/>
<rect x="67" y="539" width="1" height="45" fill="#c0c0c0"/>
<rect x="75" y="539" width="1" height="45" fill="#c0c0c0"/>
<rect x="83" y="542" width="1" height="42" fill="#c0c0c0"/>
<rect x="91" y="545" width="1" height="39" fill="#c0c0c0"/>
<rect x="99" y="549" width="1" height="35" fill="#c0c0c0"/>
<rect x="107" y="550" width="1" height="34" fill="#c0c0c0"/>
<rect x="115" y="548" width="1" height="36" fill="#c0c0c0"/>
<rect x="123" y="546" width="1" height="38" fill="#c0c0c0"/>
<rect x="131" y="548" width="1" height="36" fill="#c0c0c0"/>
<rect x="139" y="550" width="1" height="34" fill="#c0c0c0"/>
<rect x="147" y="547" width="1" height="37" fill="#c0c0c0"/>
<rect x="155" y="537" width="1" height="47" fill="#c0c0c0"/>
<rect x="163" y="529" width="1" height="55" fill="#c0c0c0"/>
<rect x="171" y="528" width="1" height="56" fill="#c0c0c0"/>
<rect x="179" y="527" width="1" height="57" fill="#c0c0c0"/>
<rect x="187" y="526" width="1" height="58" fill="#c0c0c0"/>
<rect x="195" y="527" width="1" height="57" fill="#c0c0c0"/>
<rect x="203" y="527" width="1" height="57" fill="#c0c0c0"/>
<rect x="211" y="524" width="1" height="60" fill="#c0c0c0"/>
<rect x="219" y="522" width="1" height="62" fill="#c0c0c0"/>
<rect x="227" y="519" width="1" height="65" fill="#c0c0c0"/>
<rect x="235" y="519" width="1" height="65" fill="#c0c0c0"/>
<rect x="243" y="515" width="1" height="69" fill="#c0c0c0"/>
<rect x="251" y="514" width="1" height="70" fill="#c0c0c0"/>
<rect x="259" y="516" width="1" height="68" fill="#c0c0c0"/>
<rect x="267" y="521" width="1" height="63" fill="#c0c0c0"/>
<rect x="275" y="523" width="1" height="61" fill="#c0c0c0"/>
<rect x="283" y="525" width="1" height="59" fill="#c0c0c0"/>
<rect x="291" y="528" width="1" height="56" fill="#c0c0c0"/>
<rect x="299" y="529" width="1" height="55" fill="#c0c0c0"/>
<rect x="307" y="531" width="1" height="53" fill="#c0c0c0"/>
<rect x="315" y="532" width="1" height="52" fill="#c0c0c0"/>
<rect x="323" y="533" width="1" height="51" fill="#c0c0c0"/>
<rect x="331" y="534" width="1" height="50" fill="#c0c0c0"/>
<rect x="339" y="533" width="1" height="51" fill="#c0c0c0"/>
<rect x="347" y="537" width="1" height="47" fill="#c0c0c0"/>
<rect x="355" y="541" width="1" height="43" fill="#c0c0c0"/>
<rect x="363" y="542" width="1" height="42" fill="#c0c0c0"/>
<rect x="371" y="545" width="1" height="39" fill="#c0c0c0"/>
<rect x="379" y="548" width="1" height="36" fill="#c0c0c0"/>
<rect x="387" y="551" width="1" height="33" fill="#c0c0c0"/>
<rect x="395" y="560" width="1" height="24" fill="#c0c0c0"/>
<rect x="403" y="565" width="1" height="19" fill="#c0c0c0"/>
<rect x="411" y="570" width="1" height="14" fill="#c0c0c0"/>
<rect x="419" y="566" width="1" height="18" fill="#c0c0c0"/>
<rect x="427" y="558" width="1" height="26" fill="#c0c0c0"/>
<rect x="435" y="557" width="1" height="27" fill="#c0c0c0"/>
<rect x="443" y="549" width="1" height="35" fill="#c0c0c0"/>
<rect x="451" y="545" width="1" height="39" fill="#c0c0c0"/>
<rect x="459" y="542" width="1" height="42" fill="#c0c0c0"/>
<rect x="467" y="544" width="1" height="40" fill="#c0c0c0"/>
<rect x="475" y="547" width="1" height="37" fill="#c0c0c0"/>
<rect x="483" y="551" width="1" height="33" fill="#c0c0c0"/>
<rect x="491" y="555" width="1" height="29" fill="#c0c0c0"/>
<rect x="499" y="557" width="1" height="27" fill="#c0c0c0"/>
<rect x="507" y="556" width="1" height="28" fill="#c0c0c0"/>
<rect x="515" y="553" width="1" height="31" fill="#c0c0c0"/>
<rect x="523" y="553" width="1" height="31" fill="#c0c0c0"/>
<rect x="531" y="554" width="1" height="30" fill="#c0c0c0"/>
<rect x="539" y="557" width="1" height="27" fill="#c0c0c0"/>
<rect x="547" y="555" width="1" height="29" fill="#c0c0c0"/>
<rect x="555" y="554" width="1" height="30" fill="#c0c0c0"/>
<rect x="563" y="552" width="1" height="32" fill="#c0c0c0"/>
<rect x="571" y="552" width="1" height="32" fill="#c0c0c0"/>
<rect x="579" y="554" width="1" height="30" fill="#c0c0c0"/>
<rect x="587" y="554" width="1" height="30" fill="#c0c0c0"/>
<rect x="595" y="551" width="1" height="33" fill="#c0c0c0"/>
<rect x="603" y="547" width="1" height="37" fill="#c0c0c0"/>
<rect x="611" y="547" width="1" height="37" fill="#c0c0c0"/>
<rect x="619" y="545" width="1" height="39" fill="#c0c0c0"/>
<rect x="627" y="547" width="1" height="37" fill="#c0c0c0"/>
<rect x="635" y="548" width="1" height="36" fill="#c0c0c0"/>
<rect x="643" y="549" width="1" height="35" fill="#c0c0c0"/>
<rect x="651" y="549" width="1" height="35" fill="#c0c0c0"/>
<rect x="659" y="547" width="1" height="37" fill="#c0c0c0"/>
<rect x="667" y="544" width="1" height="40" fill="#c0c0c0"/>
<rect x="675" y="539" width="1" height="45" fill="#c0c0c0"/>
<rect x="683" y="534" width="1" height="50" fill="#c0c0c0"/>
<rect x="691" y="528" width="1" height="56" fill="#c0c0c0"/>
<rect x="699" y="526" width="1" height="58" fill="#c0c0c0"/>
<rect x="707" y="526" width="1" height="58" fill="#c0c0c0"/>
<rect x="715" y="522" width="1" height="62" fill="#c0c0c0"/>
<rect x="723" y="527" width="1" height="57" fill="#c0c0c0"/>
<rect x="731" y="532" width="1" height="52" fill="#c0c0c0"/>
<rect x="739" y="536" width="1" height="48" fill="#c0c0c0"/>
<rect x="747" y="538" width="1" height="46" fill="#c0c0c0"/>
<rect x="755" y="540" width="1" height="44" fill="#c0c0c0"/>
<rect x="763" y="556" width="1" height="28" fill="#c0c0c0"/>
<rect x="771" y="564" width="1" height="20" fill="#c0c0c0"/>
<rect x="779" y="571" width="1" height="13" fill="#c0c0c0"/>
<rect x="787" y="582" width="1" height="2" fill="#c0c0c0"/>
<rect x="795" y="583" width="1" height="4" fill="#c0c0c0"/>
<rect x="803" y="583" width="1" height="11" fill="#c0c0c0"/>
<rect x="811" y="583" width="1" height="6" fill="#c0c0c0"/>
<rect x="819" y="583" width="1" height="4" fill="#c0c0c0"/>
<rect x="827" y="583" width="1" height="4" fill="#c0c0c0"/>
<rect x="835" y="583" width="1" height="1" fill="#c0c0c0"/>
<rect x="843" y="580" width="1" height="4" fill="#c0c0c0"/>
<rect x="851" y="577" width="1" height="7" fill="#c0c0c0"/>
<rect x="859" y="577" width="1" height="7" fill="#c0c0c0"/>
<rect x="867" y="568" width="1" height="16" fill="#c0c0c0"/>
<rect x="875" y="559" width="1" height="25" fill="#c0c0c0"/>
<rect x="883" y="553" width="1" height="31" fill="#c0c0c0"/>
<rect x="891" y="546" width="1" height="38" fill="#c0c0c0"/>
<rect x="899" y="545" width="1" height="39" fill="#c0c0c0"/>
<rect x="907" y="546" width="1" height="38" fill="#c0c0c0"/>
<rect x="915" y="545" width="1" height="39" fill="#c0c0c0"/>
<rect x="923" y="544" width="1" height="40" fill="#c0c0c0"/>
<rect x="931" y="544" width="1" height="40" fill="#c0c0c0"/>
<rect x="939" y="540" width="1" height="44" fill="#c0c0c0"/>
<rect x="947" y="537" width="1" height="47" fill="#c0c0c0"/>
<rect x="955" y="535" width="1" height="49" fill="#c0c0c0"/>
<rect x="963" y="532" width="1" height="52" fill="#c0c0c0"/>
<rect x="971" y="533" width="1" height="51" fill="#c0c0c0"/>
<rect x="979" y="533" width="1" height="51" fill="#c0c0c0"/>
<rect x="987" y="536" width="1" height="48" fill="#c0c0c0"/>
<rect x="995" y="536" width="1" height="48" fill="#c0c0c0"/>
<rect x="1003" y="540" width="1" height="44" fill="#c0c0c0"/>
<rect x="1011" y="541" width="1" height="43" fill="#c0c0c0"/>
<rect x="1019" y="541" width="1" height="43" fill="#c0c0c0"/>
<rect x="1027" y="547" width="1" height="37" fill="#c0c0c0"/>
<rect x="1035" y="551" width="1" height="33" fill="#c0c0c0"/>
<rect x="1043" y="557" width="1" height="27" fill="#c0c0c0"/>
<rect x="1051" y="558" width="1" height="26" fill="#c0c0c0"/>
<rect x="1059" y="559" width="1" height="25" fill="#c0c0c0"/>
<rect x="1067" y="559" width="1" height="25" fill="#c0c0c0"/>
<rect x="1075" y="558" width="1" height="26" fill="#c0c0c0"/>
<rect x="1083" y="560" width="1" height="24" fill="#c0c0c0"/>
<rect x="1091" y="562" width="1" height="22" fill="#c0c0c0"/>
<rect x="1099" y="564" width="1" height="20" fill="#c0c0c0"/>
<rect x="1107" y="573" width="1" height="11" fill="#c0c0c0"/>
<rect x="1115" y="582" width="1" height="2" fill="#c0c0c0"/>
<rect x="1123" y="583" width="1" height="6" fill="#c0c0c0"/>
<rect x="1131" y="583" width="1" height="13" fill="#c0c0c0"/>
<rect x="1139" y="583" width="1" height="16" fill="#c0c0c0"/>
<rect x="1147" y="583" width="1" height="18" fill="#c0c0c0"/>
<rect x="1155" y="583" width="1" height="16" fill="#c0c0c0"/>
<rect x="1163" y="583" width="1" height="13" fill="#c0c0c0"/>
<rect x="1171" y="583" width="1" height="13" fill="#c0c0c0"/>
<rect x="1179" y="583" width="1" height="11" fill="#c0c0c0"/>
<rect x="1187" y="583" width="1" height="13" fill="#c0c0c0"/>
<rect x="1195" y="583" width="1" height="7" fill="#c0c0c0"/>
<rect x="1203" y="583" width="1" height="8" fill="#c0c0c0"/>
<rect x="1211" y="583" width="1" height="7" fill="#c0c0c0"/>
<rect x="1219" y="583" width="1" height="5" fill="#c0c0c0"/>
<rect x="1227" y="583" width="1" height="4" fill="#c0c0c0"/>
<rect x="1235" y="583" width="1" height="1" fill="#c0c0c0"/>
<rect x="1243" y="570" width="1" height="14" fill="#c0c0c0"/>
<rect x="1251" y="565" width="1" height="19" fill="#c0c0c0"/>
<rect x="1259" y="563" width="1" height="21" fill="#c0c0c0"/>
<rect x="1267" y="561" width="1" height="23" fill="#c0c0c0"/>
<rect x="1275" y="557" width="1" height="27" fill="#c0c0c0"/>
<rect x="1283" y="555" width="1" height="29" fill="#c0c0c0"/>
<rect x="1291" y="557" width="1" height="27" fill="#c0c0c0"/>
<rect x="1299" y="554" width="1" height="30" fill="#c0c0c0"/>
<rect x="1307" y="550" width="1" height="34" fill="#c0c0c0"/>
<rect x="1315" y="548" width="1" height="36" fill="#c0c0c0"/>
<rect x="1323" y="547" width="1" height="37" fill="#c0c0c0"/>
<rect x="1331" y="547" width="1" height="37" fill="#c0c0c0"/>
<rect x="1339" y="546" width="1" height="38" fill="#c0c0c0"/>
<rect x="1347" y="545" width="1" height="39" fill="#c0c0c0"/>
<rect x="1355" y="539" width="1" height="45" fill="#c0c0c0"/>
<rect x="1363" y="535" width="1" height="49" fill="#c0c0c0"/>
<rect x="1371" y="528" width="1" height="56" fill="#c0c0c0"/>
<rect x="1379" y="521" width="1" height="63" fill="#c0c0c0"/>
<rect x="1387" y="523" width="1" height="61" fill="#c0c0c0"/>
<rect x="1395" y="545" width="1" height="39" fill="#c0c0c0"/>
<rect x="1403" y="560" width="1" height="24" fill="#c0c0c0"/>
<rect x="1411" y="572" width="1" height="12" fill="#c0c0c0"/>
<rect x="1419" y="582" width="1" height="2" fill="#c0c0c0"/>
<rect x="1427" y="583" width="1" height="7" fill="#c0c0c0"/>
<rect x="1435" y="583" width="1" height="6" fill="#c0c0c0"/>
<rect x="1443" y="583" width="1" height="28" fill="#c0c0c0"/>
<rect x="1451" y="583" width="1" height="43" fill="#c0c0c0"/>
<rect x="1459" y="583" width="1" height="52" fill="#c0c0c0"/>
<rect x="1467" y="583" width="1" height="59" fill="#c0c0c0"/>
<rect x="1475" y="583" width="1" height="69" fill="#c0c0c0"/>
<rect x="1483" y="583" width="1" height="74" fill="#c0c0c0"/>
<rect x="1491" y="583" width="1" height="71" fill="#c0c0c0"/>
<rect x="1499" y="583" width="1" height="63" fill="#c0c0c0"/>
<rect x="1507" y="583" width="1" height="55" fill="#c0c0c0"/>
<rect x="1515" y="583" width="1" height="51" fill="#c0c0c0"/>
<rect x="1523" y="583" width="1" height="44" fill="#c0c0c0"/>
<rect x="1531" y="583" width="1" height="35" fill="#c0c0c0"/>
<rect x="1539" y="583" width="1" height="22" fill="#c0c0c0"/>
<rect x="1547" y="583" width="1" height="12" fill="#c0c0c0"/>
<rect x="1555" y="583" width="1" height="1" fill="#c0c0c0"/>
<rect x="1563" y="579" width="1" height="5" fill="#c0c0c0"/>
<rect x="1571" y="575" width="1" height="9" fill="#c0c0c0"/>
<rect x="1579" y="577" width="1" height="7" fill="#c0c0c0"/>
<rect x="1587" y="580" width="1" height="4" fill="#c0c0c0"/>
<rect x="1595" y="578" width="1" height="6" fill="#c0c0c0"/>
<rect x="1603" y="576" width="1" height="8" fill="#c0c0c0"/>
<rect x="1611" y="575" width="1" height="9" fill="#c0c0c0"/>
<rect x="1619" y="573" width="1" height="11" fill="#c0c0c0"/>
<rect x="1627" y="569" width="1" height="15" fill="#c0c0c0"/>
<rect x="1635" y="567" width="1" height="17" fill="#c0c0c0"/>
<rect x="1643" y="561" width="1" height="23" fill="#c0c0c0"/>
<rect x="1651" y="553" width="1" height="31" fill="#c0c0c0"/>
<rect x="1659" y="549" width="1" height="35" fill="#c0c0c0"/>
<rect x="1667" y="546" width="1" height="38" fill="#c0c0c0"/>
<polyline points="2.9,544.0 14.6,544.7 34.1,547.2 48.8,546.4 70.7,545.2 97.5,542.3 126.8,543.5 146.3,546.0 158.5,544.7 170.7,541.6 190.2,536.0 207.2,531.3 224.3,525.7 243.8,522.6 258.4,519.6 280.3,518.4 299.9,520.1 321.8,526.9 353.5,531.3 373.0,536.0 390.0,540.3 409.6,548.9 419.8,553.8 434.4,556.9 453.9,556.9 466.1,554.2 478.3,551.3 495.3,548.9 512.4,548.9 527.0,550.6 539.2,553.3 561.1,553.8 590.4,552.5 619.7,550.1 641.6,548.4 670.8,546.0 690.3,541.6 707.4,536.0 724.5,531.8 736.7,529.4 756.2,530.1 768.4,535.5 780.6,542.8 795.2,556.2 809.8,567.2 822.0,575.7 832.2,581.1 849.3,585.0 863.9,583.5 878.5,576.9 893.1,567.9 907.8,560.6 922.4,552.5 937.0,548.4 951.6,542.8 966.3,539.1 985.8,536.2 1005.3,535.5 1024.8,536.0 1039.4,539.6 1054.0,544.5 1076.0,549.6 1093.0,556.2 1112.5,561.1 1132.0,570.8 1146.7,580.6 1166.2,590.3 1185.7,596.4 1197.9,597.1 1214.9,594.7 1230.0,590.3 1244.6,587.4 1259.3,580.6 1278.8,572.8 1298.3,562.3 1315.3,555.0 1334.8,551.3 1351.9,546.9 1366.5,542.8 1381.1,537.4 1395.8,535.5 1415.3,541.6 1432.3,553.8 1449.4,575.7 1459.2,587.9 1473.8,607.4 1488.4,624.5 1503.0,639.1 1522.5,644.4 1537.2,639.1 1554.2,624.5 1571.3,607.4 1585.9,595.2 1602.9,584.5 1620.0,577.5 1634.7,573.5 1650.2,570.3 1667.3,562.3" fill="none" stroke="#ff0000" stroke-width="1" stroke-dasharray="3 3"/>
<rect x="2" y="504" width="1687" height="1" fill="#000"/>
<rect x="2" y="666" width="1687" height="1" fill="#000"/>
<rect x="2" y="504" width="1" height="163" fill="#000"/>
<rect x="1688" y="504" width="1" height="163" fill="#000"/>
<line x1="4" y1="714.5" x2="1688" y2="714.5" stroke="#c0c0c0" stroke-dasharray="3 3"/>
<line x1="4" y1="772.5" x2="1688" y2="772.5" stroke="#c0c0c0" stroke-dasharray="3 3"/>
<polyline points="3.5,737.5 11.5,738.7 19.5,741.9 27.5,726.5 35.5,725.3 43.5,724.1 51.5,719.9 59.5,728.9 67.5,723.3 75.5,727.7 83.5,735.0 91.5,735.0 99.5,736.3 107.5,732.6 115.5,725.3 123.5,725.3 131.5,733.3 139.5,733.3 147.5,719.2 155.5,713.1 163.5,711.1 171.5,724.1 179.5,722.4 187.5,721.1 195.5,725.3 203.5,722.4 211.5,716.8 219.5,716.3 227.5,713.8 235.5,717.5 243.5,709.4 251.5,714.3 259.5,723.6 267.5,729.4 275.5,724.6 283.5,724.1 291.5,728.2 299.5,724.6 307.5,726.5 315.5,723.6 323.5,722.1 331.5,722.1 339.5,717.5 347.5,732.1 355.5,730.9 363.5,727.2 371.5,730.9 379.5,732.6 387.5,734.3 395.5,750.9 403.5,747.2 411.5,748.4 419.5,727.2 427.5,720.4 435.5,728.2 443.5,719.2 451.5,723.6 459.5,721.1 467.5,733.8 475.5,736.3 483.5,735.5 491.5,741.9 499.5,738.2 507.5,731.4 515.5,727.2 523.5,730.9 531.5,732.6 539.5,738.2 547.5,729.7 555.5,728.5 563.5,725.3 571.5,731.4 579.5,731.4 587.5,728.5 595.5,724.6 603.5,718.5 611.5,725.3 619.5,722.4 627.5,730.2 635.5,729.4 643.5,729.4 651.5,725.3 659.5,716.8 667.5,721.1 675.5,712.6 683.5,711.4 691.5,705.3 699.5,716.0 707.5,717.5 715.5,710.7 723.5,730.9 731.5,733.8 739.5,732.1 747.5,730.2 755.5,730.2 763.5,759.4 771.5,749.2 779.5,751.4 787.5,758.2 795.5,754.5 803.5,756.2 811.5,737.5 819.5,741.1 827.5,744.3 835.5,737.0 843.5,735.0 851.5,736.3 859.5,740.6 867.5,726.5 875.5,723.3 883.5,725.3 891.5,721.1 899.5,730.7 907.5,733.8 915.5,730.7 923.5,729.7 931.5,731.4 939.5,724.6 947.5,723.3 955.5,722.1 963.5,719.9 971.5,726.0 979.5,726.5 987.5,728.2 995.5,723.3 1003.5,737.0 1011.5,730.7 1019.5,728.2 1027.5,739.9 1035.5,738.7 1043.5,745.3 1051.5,736.3 1059.5,735.5 1067.5,735.5 1075.5,732.6 1083.5,737.5 1091.5,738.7 1099.5,738.7 1107.5,755.8 1115.5,759.4 1123.5,761.1 1131.5,765.0 1139.5,755.3 1147.5,752.1 1155.5,747.2 1163.5,743.6 1171.5,744.3 1179.5,744.3 1187.5,752.1 1195.5,736.3 1203.5,745.3 1211.5,743.1 1219.5,743.1 1227.5,739.2 1235.5,733.1 1243.5,716.1 1251.5,730.2 1259.5,732.1 1267.5,731.3 1275.5,727.3 1283.5,728.9 1291.5,736.1 1299.5,727.3 1307.5,724.1 1315.5,727.3 1323.5,727.3 1331.5,728.1 1339.5,726.2 1347.5,722.2 1355.5,714.7 1363.5,713.4 1371.5,708.6 1379.5,705.4 1387.5,726.7 1395.5,760.1 1403.5,756.1 1411.5,755.3 1419.5,760.1 1427.5,751.6 1435.5,743.5 1443.5,767.3 1451.5,765.4 1459.5,762.0 1467.5,761.4 1475.5,766.2 1483.5,762.8 1491.5,752.9 1499.5,747.3 1507.5,746.2 1515.5,749.4 1523.5,744.9 1531.5,740.9 1539.5,732.9 1547.5,732.1 1555.5,732.1 1563.5,732.1 1571.5,735.3 1579.5,743.3 1587.5,747.3 1595.5,739.3 1603.5,738.2 1611.5,739.3 1619.5,737.4 1627.5,732.1 1635.5,735.5 1643.5,726.7 1651.5,722.2 1659.5,724.9 1667.5,724.9" fill="none" stroke="#1e90ff" stroke-width="1" />
<rect x="2" y="668" width="1687" height="1" fill="#000"/>
<rect x="2" y="817" width="1687" height="1" fill="#000"/>
<rect x="2" y="668" width="1" height="150" fill="#000"/>
<rect x="1688" y="668" width="1" height="150" fill="#000"/>
</g>
<rect x="1689" y="4" width="2" height="1" fill="#000"/>
<text x="0" y="0" transform="translate(1694,8) scale(0.95,1)" font-size="9.8" fill="#000" stroke="#000" stroke-width="0.25" text-anchor="start" >78.260</text>
<rect x="1689" y="37" width="2" height="1" fill="#000"/>
<text x="0" y="0" transform="translate(1694,41) scale(0.95,1)" font-size="9.8" fill="#000" stroke="#000" stroke-width="0.25" text-anchor="start" >77.560</text>
<rect x="1689" y="70" width="2" height="1" fill="#000"/>
<text x="0" y="0" transform="translate(1694,74) scale(0.95,1)" font-size="9.8" fill="#000" stroke="#000" stroke-width="0.25" text-anchor="start" >76.860</text>
<rect x="1689" y="103" width="2" height="1" fill="#000"/>
<text x="0" y="0" transform="translate(1694,107) scale(0.95,1)" font-size="9.8" fill="#000" stroke="#000" stroke-width="0.25" text-anchor="start" >76.160</text>
<rect x="1689" y="136" width="2" height="1" fill="#000"/>
<text x="0" y="0" transform="translate(1694,140) scale(0.95,1)" font-size="9.8" fill="#000" stroke="#000" stroke-width="0.25" text-anchor="start" >75.460</text>
<rect x="1689" y="169" width="2" height="1" fill="#000"/>
<text x="0" y="0" transform="translate(1694,173) scale(0.95,1)" font-size="9.8" fill="#000" stroke="#000" stroke-width="0.25" text-anchor="start" >74.760</text>
<rect x="1689" y="202" width="2" height="1" fill="#000"/>
<text x="0" y="0" transform="translate(1694,206) scale(0.95,1)" font-size="9.8" fill="#000" stroke="#000" stroke-width="0.25" text-anchor="start" >74.060</text>
<rect x="1689" y="235" width="2" height="1" fill="#000"/>
<text x="0" y="0" transform="translate(1694,239) scale(0.95,1)" font-size="9.8" fill="#000" stroke="#000" stroke-width="0.25" text-anchor="start" >73.360</text>
<rect x="1689" y="268" width="2" height="1" fill="#000"/>
<text x="0" y="0" transform="translate(1694,272) scale(0.95,1)" font-size="9.8" fill="#000" stroke="#000" stroke-width="0.25" text-anchor="start" >72.640</text>
<rect x="1689" y="301" width="2" height="1" fill="#000"/>
<text x="0" y="0" transform="translate(1694,305) scale(0.95,1)" font-size="9.8" fill="#000" stroke="#000" stroke-width="0.25" text-anchor="start" >71.940</text>
<rect x="1689" y="334" width="2" height="1" fill="#000"/>
<text x="0" y="0" transform="translate(1694,338) scale(0.95,1)" font-size="9.8" fill="#000" stroke="#000" stroke-width="0.25" text-anchor="start" >71.240</text>
<rect x="1689" y="367" width="2" height="1" fill="#000"/>
<text x="0" y="0" transform="translate(1694,371) scale(0.95,1)" font-size="9.8" fill="#000" stroke="#000" stroke-width="0.25" text-anchor="start" >70.540</text>
<rect x="1689" y="400" width="2" height="1" fill="#000"/>
<text x="0" y="0" transform="translate(1694,404) scale(0.95,1)" font-size="9.8" fill="#000" stroke="#000" stroke-width="0.25" text-anchor="start" >69.840</text>
<rect x="1689" y="433" width="2" height="1" fill="#000"/>
<text x="0" y="0" transform="translate(1694,437) scale(0.95,1)" font-size="9.8" fill="#000" stroke="#000" stroke-width="0.25" text-anchor="start" >69.140</text>
<rect x="1689" y="466" width="2" height="1" fill="#000"/>
<text x="0" y="0" transform="translate(1694,470) scale(0.95,1)" font-size="9.8" fill="#000" stroke="#000" stroke-width="0.25" text-anchor="start" >68.440</text>
<rect x="1689" y="499" width="2" height="1" fill="#000"/>
<text x="0" y="0" transform="translate(1694,503) scale(0.95,1)" font-size="9.8" fill="#000" stroke="#000" stroke-width="0.25" text-anchor="start" >67.740</text>
<rect x="1690" y="11" width="33" height="11" fill="#ff0000"/>
<text x="0" y="0" transform="translate(1694,20) scale(0.95,1)" font-size="9.8" fill="#fff" stroke="#fff" stroke-width="0.25" text-anchor="start" >78.000</text>
<rect x="1690" y="90" width="33" height="11" fill="#000"/>
<text x="0" y="0" transform="translate(1694,99) scale(0.95,1)" font-size="9.8" fill="#fff" stroke="#fff" stroke-width="0.25" text-anchor="start" >76.330</text>
<rect x="1690" y="128" width="33" height="11" fill="#32cd32"/>
<text x="0" y="0" transform="translate(1694,137) scale(0.95,1)" font-size="9.8" fill="#fff" stroke="#fff" stroke-width="0.25" text-anchor="start" >75.500</text>
<rect x="1690" y="246" width="33" height="11" fill="#4169e1"/>
<text x="0" y="0" transform="translate(1694,255) scale(0.95,1)" font-size="9.8" fill="#fff" stroke="#fff" stroke-width="0.25" text-anchor="start" >73.000</text>
<rect x="1690" y="363" width="33" height="11" fill="#4169e1"/>
<text x="0" y="0" transform="translate(1694,372) scale(0.95,1)" font-size="9.8" fill="#fff" stroke="#fff" stroke-width="0.25" text-anchor="start" >70.500</text>
<rect x="1689" y="506" width="2" height="1" fill="#000"/>
<text x="0" y="0" transform="translate(1692,515) scale(0.95,1)" font-size="9.8" fill="#000" stroke="#000" stroke-width="0.25" text-anchor="start" >0.7507</text>
<rect x="1689" y="583" width="2" height="1" fill="#000"/>
<text x="0" y="0" transform="translate(1692,587) scale(0.95,1)" font-size="9.8" fill="#000" stroke="#000" stroke-width="0.25" text-anchor="start" >0.00</text>
<rect x="1689" y="665" width="2" height="1" fill="#000"/>
<text x="0" y="0" transform="translate(1692,663) scale(0.95,1)" font-size="9.8" fill="#000" stroke="#000" stroke-width="0.25" text-anchor="start" >-0.7918</text>
<rect x="1689" y="670" width="2" height="1" fill="#000"/>
<text x="0" y="0" transform="translate(1692,679) scale(0.95,1)" font-size="9.8" fill="#000" stroke="#000" stroke-width="0.25" text-anchor="start" >100</text>
<text x="0" y="0" transform="translate(1692,718) scale(0.95,1)" font-size="9.8" fill="#000" stroke="#000" stroke-width="0.25" text-anchor="start" >70</text>
<text x="0" y="0" transform="translate(1692,776) scale(0.95,1)" font-size="9.8" fill="#000" stroke="#000" stroke-width="0.25" text-anchor="start" >30</text>
<text x="0" y="0" transform="translate(1692,814) scale(0.95,1)" font-size="9.8" fill="#000" stroke="#000" stroke-width="0.25" text-anchor="start" >0</text>
<rect x="3" y="818" width="1" height="3" fill="#000"/>
<text x="0" y="0" transform="translate(2,830) scale(0.95,1)" font-size="9.8" fill="#000" stroke="#000" stroke-width="0.25" text-anchor="start" >27 May 2021</text>
<rect x="67" y="818" width="1" height="3" fill="#000"/>
<text x="0" y="0" transform="translate(66,830) scale(0.95,1)" font-size="9.8" fill="#000" stroke="#000" stroke-width="0.25" text-anchor="start" >28 May 08:00</text>
<rect x="131" y="818" width="1" height="3" fill="#000"/>
<text x="0" y="0" transform="translate(130,830) scale(0.95,1)" font-size="9.8" fill="#000" stroke="#000" stroke-width="0.25" text-anchor="start" >31 May 12:00</text>
<rect x="195" y="818" width="1" height="3" fill="#000"/>
<text x="0" y="0" transform="translate(194,830) scale(0.95,1)" font-size="9.8" fill="#000" stroke="#000" stroke-width="0.25" text-anchor="start" >2 Jun 00:00</text>
<rect x="259" y="818" width="1" height="3" fill="#000"/>
<text x="0" y="0" transform="translate(258,830) scale(0.95,1)" font-size="9.8" fill="#000" stroke="#000" stroke-width="0.25" text-anchor="start" >3 Jun 08:00</text>
<rect x="323" y="818" width="1" height="3" fill="#000"/>
<text x="0" y="0" transform="translate(322,830) scale(0.95,1)" font-size="9.8" fill="#000" stroke="#000" stroke-width="0.25" text-anchor="start" >4 Jun 16:00</text>
<rect x="387" y="818" width="1" height="3" fill="#000"/>
<text x="0" y="0" transform="translate(386,830) scale(0.95,1)" font-size="9.8" fill="#000" stroke="#000" stroke-width="0.25" text-anchor="start" >7 Jun 20:00</text>
<rect x="451" y="818" width="1" height="3" fill="#000"/>
<text x="0" y="0" transform="translate(450,830) scale(0.95,1)" font-size="9.8" fill="#000" stroke="#000" stroke-width="0.25" text-anchor="start" >9 Jun 04:00</text>
<rect x="515" y="818" width="1" height="3" fill="#000"/>
<text x="0" y="0" transform="translate(514,830) scale(0.95,1)" font-size="9.8" fill="#000" stroke="#000" stroke-width="0.25" text-anchor="start" >10 Jun 12:00</text>
<rect x="579" y="818" width="1" height="3" fill="#000"/>
<text x="0" y="0" transform="translate(578,830) scale(0.95,1)" font-size="9.8" fill="#000" stroke="#000" stroke-width="0.25" text-anchor="start" >11 Jun 20:00</text>
<rect x="643" y="818" width="1" height="3" fill="#000"/>
<text x="0" y="0" transform="translate(642,830) scale(0.95,1)" font-size="9.8" fill="#000" stroke="#000" stroke-width="0.25" text-anchor="start" >15 Jun 00:00</text>
<rect x="707" y="818" width="1" height="3" fill="#000"/>
<text x="0" y="0" transform="translate(706,830) scale(0.95,1)" font-size="9.8" fill="#000" stroke="#000" stroke-width="0.25" text-anchor="start" >16 Jun 08:00</text>
<rect x="771" y="818" width="1" height="3" fill="#000"/>
<text x="0" y="0" transform="translate(770,830) scale(0.95,1)" font-size="9.8" fill="#000" stroke="#000" stroke-width="0.25" text-anchor="start" >17 Jun 16:00</text>
<rect x="835" y="818" width="1" height="3" fill="#000"/>
<text x="0" y="0" transform="translate(834,830) scale(0.95,1)" font-size="9.8" fill="#000" stroke="#000" stroke-width="0.25" text-anchor="start" >20 Jun 23:00</text>
<rect x="899" y="818" width="1" height="3" fill="#000"/>
<text x="0" y="0" transform="translate(898,830) scale(0.95,1)" font-size="9.8" fill="#000" stroke="#000" stroke-width="0.25" text-anchor="start" >22 Jun 04:00</text>
<rect x="963" y="818" width="1" height="3" fill="#000"/>
<text x="0" y="0" transform="translate(962,830) scale(0.95,1)" font-size="9.8" fill="#000" stroke="#000" stroke-width="0.25" text-anchor="start" >23 Jun 12:00</text>
<rect x="1027" y="818" width="1" height="3" fill="#000"/>
<text x="0" y="0" transform="translate(1026,830) scale(0.95,1)" font-size="9.8" fill="#000" stroke="#000" stroke-width="0.25" text-anchor="start" >25 Jun 00:00</text>
<rect x="1091" y="818" width="1" height="3" fill="#000"/>
<text x="0" y="0" transform="translate(1090,830) scale(0.95,1)" font-size="9.8" fill="#000" stroke="#000" stroke-width="0.25" text-anchor="start" >28 Jun 04:00</text>
<rect x="1155" y="818" width="1" height="3" fill="#000"/>
<text x="0" y="0" transform="translate(1154,830) scale(0.95,1)" font-size="9.8" fill="#000" stroke="#000" stroke-width="0.25" text-anchor="start" >29 Jun 12:00</text>
<rect x="1219" y="818" width="1" height="3" fill="#000"/>
<text x="0" y="0" transform="translate(1218,830) scale(0.95,1)" font-size="9.8" fill="#000" stroke="#000" stroke-width="0.25" text-anchor="start" >30 Jun 20:00</text>
<rect x="1283" y="818" width="1" height="3" fill="#000"/>
<text x="0" y="0" transform="translate(1282,830) scale(0.95,1)" font-size="9.8" fill="#000" stroke="#000" stroke-width="0.25" text-anchor="start" >2 Jul 04:00</text>
<rect x="1347" y="818" width="1" height="3" fill="#000"/>
<text x="0" y="0" transform="translate(1346,830) scale(0.95,1)" font-size="9.8" fill="#000" stroke="#000" stroke-width="0.25" text-anchor="start" >5 Jul 08:00</text>
<rect x="1411" y="818" width="1" height="3" fill="#000"/>
<text x="0" y="0" transform="translate(1410,830) scale(0.95,1)" font-size="9.8" fill="#000" stroke="#000" stroke-width="0.25" text-anchor="start" >6 Jul 20:00</text>
<rect x="1475" y="818" width="1" height="3" fill="#000"/>
<text x="0" y="0" transform="translate(1474,830) scale(0.95,1)" font-size="9.8" fill="#000" stroke="#000" stroke-width="0.25" text-anchor="start" >8 Jul 04:00</text>
<rect x="1539" y="818" width="1" height="3" fill="#000"/>
<text x="0" y="0" transform="translate(1538,830) scale(0.95,1)" font-size="9.8" fill="#000" stroke="#000" stroke-width="0.25" text-anchor="start" >9 Jul 12:00</text>
<rect x="1603" y="818" width="1" height="3" fill="#000"/>
<text x="0" y="0" transform="translate(1602,830) scale(0.95,1)" font-size="9.8" fill="#000" stroke="#000" stroke-width="0.25" text-anchor="start" >12 Jul 16:00</text>
<rect x="1667" y="818" width="1" height="3" fill="#000"/>
<text x="0" y="0" transform="translate(1666,830) scale(0.95,1)" font-size="9.8" fill="#000" stroke="#000" stroke-width="0.25" text-anchor="start" >13 Jul 21:15</text>
<polygon points="6,8 13,8 9.5,12" fill="#000"/>
<text x="0" y="0" transform="translate(18,13) scale(0.95,1)" font-size="9.8" fill="#000" stroke="#000" stroke-width="0.25" text-anchor="start" >UKOil-,H4&#160;&#160;76.330 76.330 76.330 76.330</text>
<text x="0" y="0" transform="translate(7,517) scale(0.95,1)" font-size="9.8" fill="#000" stroke="#000" stroke-width="0.25" text-anchor="start" >MACD(12,26,9) 0.3731 0.2026</text>
<text x="0" y="0" transform="translate(7,682) scale(0.95,1)" font-size="9.8" fill="#000" stroke="#000" stroke-width="0.25" text-anchor="start" >RSI(14) 62.2133</text>
<text x="0" y="0" transform="translate(1242.3,443.9)" font-size="36.7" fill="#ee1c25" style="font-family:'Liberation Sans', 'Noto Sans CJK SC', sans-serif">多空转折点</text>
<text x="0" y="0" transform="translate(1423.5,442.4) scale(0.943,1)" font-size="39.5" fill="#ee1c25" style="font-family:'Liberation Sans', 'Noto Sans CJK SC', sans-serif">75.5</text>
</svg>
</body></html>
